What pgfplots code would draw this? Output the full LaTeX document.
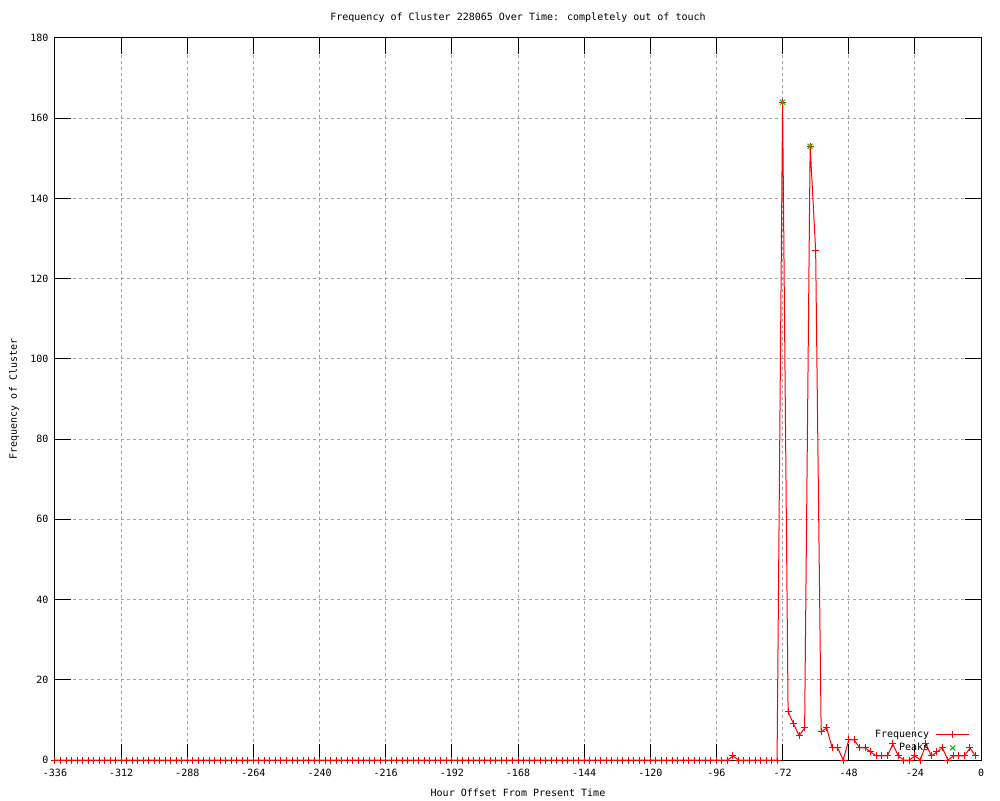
\documentclass[border=0pt]{standalone}
\usepackage{pgfplots}
\pgfplotsset{compat=1.18}
\usepackage{fontspec}
\setmainfont{DejaVu Sans Mono}
\definecolor{gpgreen}{RGB}{0,192,0}
\definecolor{gpgrid}{RGB}{160,160,160}
\begin{document}
\begin{tikzpicture}[font=\fontsize{10}{12}\selectfont]
\useasboundingbox (-55pt,-40pt) rectangle (945pt,760pt);
\begin{axis}[
  at={(0pt,0pt)}, anchor=south west,
  scale only axis, width=926pt, height=722pt,
  xmin=-336, xmax=0, ymin=0, ymax=180,
  xtick={-336,-312,-288,-264,-240,-216,-192,-168,-144,-120,-96,-72,-48,-24,0},
  xticklabels={-336,-312,-288,-264,-240,-216,-192,-168,-144,-120,-96,-72,-48,-24,0},
  ytick={0,20,40,60,80,100,120,140,160,180},
  yticklabels={0,20,40,60,80,100,120,140,160,180},
  major tick length=16pt,
  tick style={black, line width=1pt},
  axis line style={black, line width=1pt},
  grid=major,
  major grid style={gpgrid, line width=1pt, dash pattern=on 3pt off 3pt},
  xticklabel style={anchor=center, yshift=-13pt, inner sep=0pt},
  yticklabel style={anchor=east, xshift=-3pt},
  title={Frequency of Cluster 228065 Over Time: completely out of touch},
  every axis title/.style={at={(axis description cs:0.5,1)}, anchor=center, yshift=20pt},
  xlabel={Hour Offset From Present Time},
  every axis x label/.style={at={(axis description cs:0.5,0)}, anchor=center, yshift=-33pt},
  ylabel={Frequency of Cluster},
  every axis y label/.style={at={(axis description cs:0,0.5)}, xshift=-41pt, anchor=center, rotate=90},
  clip=false,
  legend plot pos=right,
  legend cell align=right,
  legend style={draw=none, fill=none, inner sep=0pt, row sep=0pt, column sep=5pt,
    nodes={inner sep=1.5pt, text height=7.5pt, text depth=2.5pt},
    at={(axis description cs:0.988,0.0075)}, anchor=south east},
]
\addplot[red, line width=1pt, mark=+, mark size=3.5pt, mark options={solid, line width=1pt},
  legend image code/.code={\draw[mark repeat=2, mark phase=2] plot coordinates {(0pt,0pt) (16.5pt,0pt) (33pt,0pt)};}]
coordinates {
(-336,0)(-334,0)(-332,0)(-330,0)(-328,0)(-326,0)(-324,0)(-322,0)(-320,0)(-318,0)
(-316,0)(-314,0)(-312,0)(-310,0)(-308,0)(-306,0)(-304,0)(-302,0)(-300,0)(-298,0)
(-296,0)(-294,0)(-292,0)(-290,0)(-288,0)(-286,0)(-284,0)(-282,0)(-280,0)(-278,0)
(-276,0)(-274,0)(-272,0)(-270,0)(-268,0)(-266,0)(-264,0)(-262,0)(-260,0)(-258,0)
(-256,0)(-254,0)(-252,0)(-250,0)(-248,0)(-246,0)(-244,0)(-242,0)(-240,0)(-238,0)
(-236,0)(-234,0)(-232,0)(-230,0)(-228,0)(-226,0)(-224,0)(-222,0)(-220,0)(-218,0)
(-216,0)(-214,0)(-212,0)(-210,0)(-208,0)(-206,0)(-204,0)(-202,0)(-200,0)(-198,0)
(-196,0)(-194,0)(-192,0)(-190,0)(-188,0)(-186,0)(-184,0)(-182,0)(-180,0)(-178,0)
(-176,0)(-174,0)(-172,0)(-170,0)(-168,0)(-166,0)(-164,0)(-162,0)(-160,0)(-158,0)
(-156,0)(-154,0)(-152,0)(-150,0)(-148,0)(-146,0)(-144,0)(-142,0)(-140,0)(-138,0)
(-136,0)(-134,0)(-132,0)(-130,0)(-128,0)(-126,0)(-124,0)(-122,0)(-120,0)(-118,0)
(-116,0)(-114,0)(-112,0)(-110,0)(-108,0)(-106,0)(-104,0)(-102,0)(-100,0)(-98,0)
(-96,0)(-94,0)(-92,0)(-90,1)(-88,0)(-86,0)(-84,0)(-82,0)(-80,0)(-78,0)
(-76,0)(-74,0)(-72,164)(-70,12)(-68,9)(-66,6)(-64,8)(-62,153)(-60,127)(-58,7)
(-56,8)(-54,3)(-52,3)(-50,0)(-48,5)(-46,5)(-44,3)(-42,3)(-40,2)(-38,1)
(-36,1)(-34,1)(-32,4)(-30,1)(-28,0)(-26,0)(-24,1)(-22,0)(-20,4)(-18,1)
(-16,2)(-14,3)(-12,0)(-10,1)(-8,1)(-6,1)(-4,3)(-2,1)
};
\addlegendentry{Frequency}
\addplot[gpgreen, only marks, mark=x, mark size=3.5pt, mark options={line width=1pt},
  legend image code/.code={\path (0pt,0pt) (33pt,0pt); \draw plot coordinates {(16.5pt,0pt)};}]
coordinates {(-72,164)(-62,153)};
\addlegendentry{Peaks}
\end{axis}
\end{tikzpicture}
\end{document}
